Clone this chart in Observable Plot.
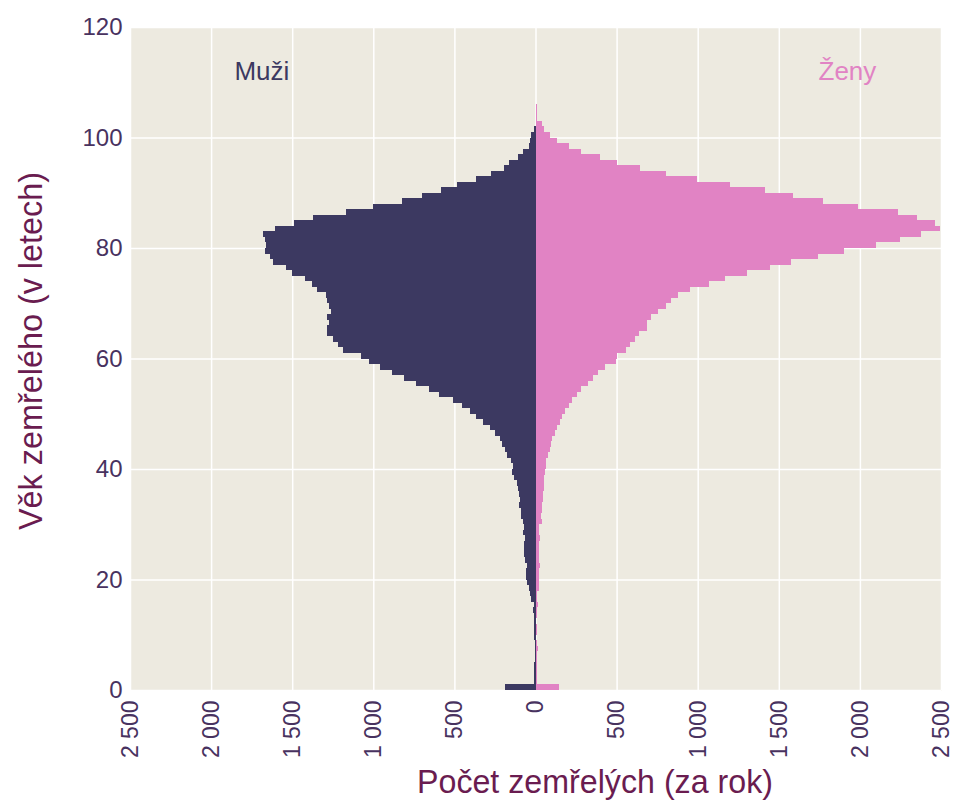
<!DOCTYPE html>
<html><head><meta charset="utf-8">
<script src="https://cdn.jsdelivr.net/npm/d3@7"></script>
<script src="https://cdn.jsdelivr.net/npm/@observablehq/plot@0.6"></script>
<style>body{margin:0;background:#fff;}</style>
</head><body><div id="chart"></div>
<script>
// Age (years) of the deceased — one bar per year of age
const ages = [0,1,2,3,4,5,6,7,8,9,10,11,12,13,14,15,16,17,18,19,20,21,22,23,24,25,26,27,28,29,30,31,32,33,34,35,36,37,38,39,40,41,42,43,44,45,46,47,48,49,50,51,52,53,54,55,56,57,58,59,60,61,62,63,64,65,66,67,68,69,70,71,72,73,74,75,76,77,78,79,80,81,82,83,84,85,86,87,88,89,90,91,92,93,94,95,96,97,98,99,100,101,102,103,104,105];
// Deaths per year, men (drawn to the left)
const men = [191,12,12,11,12,3,3,4,3,12,12,11,12,12,13,12,25,31,43,55,57,56,54,67,68,69,68,67,74,73,75,87,88,99,98,100,105,117,130,142,141,148,173,185,204,216,247,278,321,365,402,451,507,593,655,735,810,884,958,1026,1075,1187,1217,1248,1285,1284,1273,1285,1261,1273,1285,1292,1347,1378,1421,1502,1539,1619,1638,1669,1662,1669,1681,1607,1489,1372,1168,1001,822,698,581,482,365,272,192,161,105,74,43,31,25,12,0,0,0,0];
// Deaths per year, women (drawn to the right)
const women = [142,12,12,12,11,12,12,13,12,3,12,12,3,12,12,13,12,12,24,24,23,24,25,24,24,23,24,25,24,24,37,36,37,38,49,48,50,55,55,56,67,66,80,92,98,99,122,135,153,165,184,208,226,257,282,324,355,386,428,496,502,557,581,612,636,685,686,710,753,802,838,881,955,1071,1169,1304,1444,1573,1744,1903,2099,2246,2375,2491,2466,2350,2234,1989,1775,1585,1414,1200,998,802,643,502,398,282,208,135,92,55,37,12,12,12];
const xTicks = [-2500,-2000,-1500,-1000,-500,0,500,1000,1500,2000,2500];
const yTicks = [0,20,40,60,80,100,120];
const sexLabels = ["Muži","Ženy"];
const xTitle = "Počet zemřelých (za rok)";
const yTitle = "Věk zemřelého (v letech)";

const rows = ages.map((a,i)=>({age:a, men:men[i], women:women[i]}));
const fmt = d3.formatLocale({thousands:"\u00a0", grouping:[3], decimal:",", currency:["",""]}).format(",d");
const menColor = "#3c3961", womenColor = "#e183c4", tickColor = "#48325f", titleColor = "#6a1c50";
const font = "'Liberation Sans', Arial, Helvetica, sans-serif";

const plot = Plot.plot({
  width: 953, height: 803,
  marginLeft: 130, marginRight: 12, marginTop: 27, marginBottom: 113,
  style: {fontFamily: font, background: "#fff", overflow: "visible"},
  x: {domain: [-2500, 2500]},
  y: {domain: [0, 120]},
  marks: [
    Plot.frame({fill: "#edeae0", stroke: "none"}),
    Plot.gridX(xTicks, {stroke: "#fff", strokeOpacity: 1, strokeWidth: 1.5}),
    Plot.gridY(yTicks, {stroke: "#fff", strokeOpacity: 1, strokeWidth: 1.5}),
    Plot.rect(rows, {x1: () => 0, x2: d => -d.men, y1: "age", y2: d => d.age + 1, fill: menColor, shapeRendering: "crispEdges"}),
    Plot.rect(rows, {x1: () => 0, x2: "women", y1: "age", y2: d => d.age + 1, fill: womenColor, shapeRendering: "crispEdges"}),
    Plot.axisX(xTicks, {tickRotate: -90, tickSize: 0, tickPadding: 10, tickFormat: d => fmt(Math.abs(d)), fontSize: 23, fill: tickColor, label: null}),
    Plot.axisY(yTicks, {tickSize: 0, tickPadding: 8, fontSize: 24, fill: tickColor, label: null}),
    Plot.text([sexLabels[0]], {x: () => -1690, y: () => 112, text: d => d, fill: menColor, fontSize: 26}),
    Plot.text([sexLabels[1]], {x: () => 1920, y: () => 112, text: d => d, fill: womenColor, fontSize: 26})
  ]
});

const svg = d3.select(plot);
svg.append("text")
  .attr("x", 595).attr("y", 793)
  .attr("text-anchor", "middle")
  .attr("font-family", font).attr("font-size", 33)
  .attr("fill", titleColor)
  .attr("textLength", 356).attr("lengthAdjust", "spacingAndGlyphs")
  .text(xTitle);
svg.append("text")
  .attr("transform", "translate(42,351) rotate(-90)")
  .attr("text-anchor", "middle")
  .attr("font-family", font).attr("font-size", 33)
  .attr("fill", titleColor)
  .attr("textLength", 358).attr("lengthAdjust", "spacingAndGlyphs")
  .text(yTitle);

document.getElementById("chart").appendChild(plot);
</script>
</body></html>
